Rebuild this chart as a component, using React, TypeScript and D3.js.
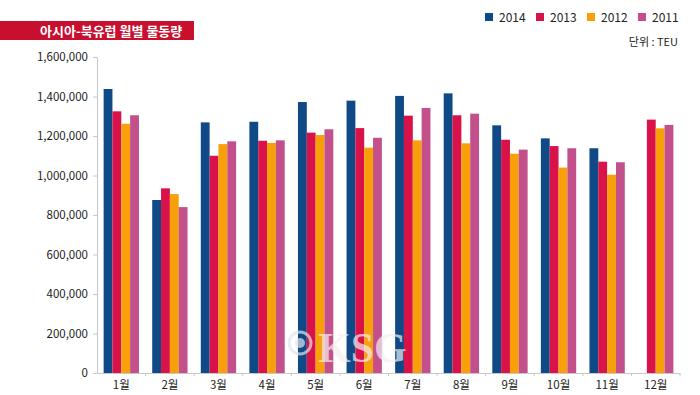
import { useEffect, useRef } from "react";
import * as d3 from "d3";

const months = ["1월", "2월", "3월", "4월", "5월", "6월", "7월", "8월", "9월", "10월", "11월", "12월"];
const years = ["2014", "2013", "2012", "2011"];
const colors = ["#104a86", "#d9124a", "#f8a00a", "#c3508a"];

const v2014 = [1438000, 876000, 1269000, 1272000, 1372000, 1379000, 1403000, 1416000, 1254000, 1188000, 1138000, null];
const v2013 = [1325000, 935000, 1100000, 1176000, 1217000, 1240000, 1303000, 1305000, 1181000, 1149000, 1070000, 1283000];
const v2012 = [1262000, 906000, 1159000, 1165000, 1205000, 1141000, 1178000, 1163000, 1110000, 1040000, 1004000, 1239000];
const v2011 = [1305000, 840000, 1173000, 1178000, 1234000, 1191000, 1342000, 1313000, 1131000, 1138000, 1067000, 1256000];

const yTicks = [0, 200000, 400000, 600000, 800000, 1000000, 1200000, 1400000, 1600000];

const FONT = "'Noto Sans CJK KR', 'Noto Sans', sans-serif";

export default function App() {
  const svgRef = useRef<SVGSVGElement>(null);

  useEffect(() => {
    if (!svgRef.current) return;
    const svg = d3.select(svgRef.current);
    svg.selectAll("*").remove();

    const margin = { top: 57, left: 97 };
    const series = [v2014, v2013, v2012, v2011];

    const x = d3.scaleBand().domain(months).range([margin.left, 680]).paddingInner(0).paddingOuter(0);
    const x1 = d3.scaleBand().domain(years).range([0, x.bandwidth()]).paddingInner(0).paddingOuter(0.75);
    const y = d3.scaleLinear().domain([0, 1600000]).range([373, margin.top]);

    // title banner
    svg.append("rect").attr("x", 0).attr("y", 21).attr("width", 194).attr("height", 19).attr("fill", "#c8102e");
    svg.append("text")
      .attr("x", 40).attr("y", 35.5)
      .attr("fill", "#fff").attr("font-size", 13).attr("font-weight", 700)
      .attr("font-family", FONT)
      .text("아시아-북유럽 월별 물동량");

    // legend
    const legendX = [485, 536, 587, 638];
    years.forEach((yr, i) => {
      svg.append("rect").attr("x", legendX[i]).attr("y", 13).attr("width", 8).attr("height", 8).attr("fill", colors[i]);
      svg.append("text")
        .attr("x", legendX[i] + 14).attr("y", 22)
        .attr("font-size", 12).attr("font-family", FONT).attr("fill", "#222")
        .text(yr);
    });
    svg.append("text")
      .attr("x", 678).attr("y", 46).attr("text-anchor", "end")
      .attr("font-size", 11).attr("font-family", FONT).attr("fill", "#222")
      .text("단위 : TEU");

    // bars
    const g = svg.append("g");
    months.forEach((m, mi) => {
      series.forEach((s, si) => {
        const v = s[mi];
        if (v == null) return;
        g.append("rect")
          .attr("x", (x(m) ?? 0) + (x1(years[si]) ?? 0))
          .attr("y", y(v))
          .attr("width", x1.bandwidth())
          .attr("height", y(0) - y(v))
          .attr("fill", colors[si]);
      });
    });

    // y axis
    const yAxis = svg.append("g")
      .attr("transform", `translate(${margin.left},0)`)
      .call(d3.axisLeft(y).tickValues(yTicks).tickSize(4).tickPadding(5).tickFormat((d) => d3.format(",")(d as number)));
    yAxis.select(".domain").attr("stroke", "#c8c8c8");
    yAxis.selectAll(".tick line").attr("stroke", "#c8c8c8");
    yAxis.selectAll("text").attr("font-size", 11.5).attr("font-family", FONT).attr("fill", "#222");

    // x axis
    const xAxis = svg.append("g")
      .attr("transform", `translate(0,${y(0)})`)
      .call(d3.axisBottom(x).tickSize(0).tickPadding(8));
    xAxis.select(".domain").attr("stroke", "#c8c8c8");
    xAxis.selectAll("text").attr("font-size", 11.5).attr("font-family", FONT).attr("fill", "#222");
    xAxis.selectAll(".sep")
      .data(months.slice(1).concat(["end"]))
      .enter()
      .append("line")
      .attr("class", "sep")
      .attr("x1", (d, i) => (i < months.length - 1 ? (x(d) ?? 0) : 680))
      .attr("x2", (d, i) => (i < months.length - 1 ? (x(d) ?? 0) : 680))
      .attr("y1", 0).attr("y2", 3)
      .attr("stroke", "#c8c8c8");

    // watermark
    const wm = svg.append("g").attr("opacity", 0.7);
    wm.append("circle").attr("cx", 300).attr("cy", 343).attr("r", 11).attr("fill", "none").attr("stroke", "#dfe6f0").attr("stroke-width", 3);
    wm.append("circle").attr("cx", 300).attr("cy", 343).attr("r", 5).attr("fill", "#dfe6f0");
    wm.append("text")
      .attr("x", 318).attr("y", 362)
      .attr("font-size", 42).attr("font-weight", 700)
      .attr("font-family", "'Liberation Serif', serif")
      .attr("fill", "#f4eef2")
      .text("KSG");
  }, []);

  return (
    <svg
      ref={svgRef}
      width={700}
      height={395}
      style={{ position: "absolute", left: 0, top: 0, background: "#fff" }}
    />
  );
}
